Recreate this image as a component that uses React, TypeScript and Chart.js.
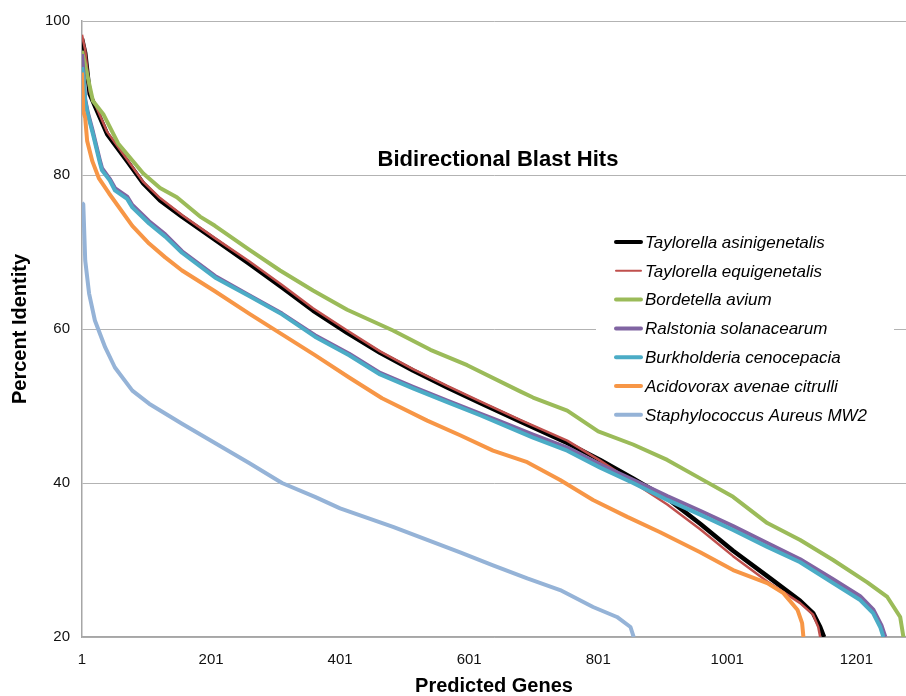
import React, { useEffect, useRef } from "react";
import { Chart, registerables } from "chart.js";

Chart.register(...registerables);

// Series: [predicted gene rank, percent identity]
const taylorellaAsinigenetalis: [number, number][] = [
  [1, 97.7], [6, 95.8], [13, 90.5], [40, 85.3], [71, 81.8], [96, 78.9], [122, 76.7], [156, 74.6],
  [207, 71.6], [260, 68.5], [311, 65.4], [359, 62.4], [412, 59.5], [463, 56.9], [514, 54.6],
  [567, 52.4], [618, 50.4], [680, 48.0], [753, 45.2], [804, 43.0], [855, 40.6], [908, 38.0],
  [959, 34.7], [1010, 31.2], [1063, 27.9], [1114, 24.7], [1134, 23.1], [1145, 21.3], [1151, 20.0],
];
const taylorellaEquigenetalis: [number, number][] = [
  [1, 98.2], [6, 96.2], [13, 90.8], [40, 85.6], [71, 82.0], [96, 79.1], [122, 77.0], [156, 74.8],
  [207, 71.8], [260, 68.8], [311, 65.7], [359, 62.7], [412, 59.8], [463, 57.1], [514, 54.8],
  [567, 52.6], [618, 50.6], [680, 48.2], [753, 45.5], [804, 42.9], [855, 40.1], [908, 37.2],
  [959, 34.0], [1010, 30.5], [1063, 27.2], [1114, 24.4], [1134, 22.9], [1142, 21.3], [1145, 20.0],
];
const bordetellaAvium: [number, number][] = [
  [1, 96.1], [18, 89.6], [34, 87.9], [57, 84.1], [96, 80.2], [122, 78.3], [148, 77.1], [184, 74.6],
  [207, 73.4], [260, 70.3], [308, 67.6], [359, 65.0], [412, 62.5], [483, 59.8], [541, 57.3],
  [598, 55.3], [680, 51.9], [700, 51.1], [753, 49.4], [801, 46.7], [855, 45.0], [908, 43.0],
  [959, 40.6], [1010, 38.2], [1063, 34.8], [1114, 32.6], [1165, 30.0], [1218, 27.1],
  [1249, 25.2], [1269, 22.6], [1274, 20.0],
];
const ralstoniaSolanacearum: [number, number][] = [
  [1, 95.7], [3, 93.5], [6, 89.8], [10, 88.1], [18, 85.6], [29, 81.8], [32, 80.9], [44, 79.5],
  [52, 78.3], [71, 77.2], [79, 76.1], [105, 74.0], [130, 72.3], [156, 70.1], [207, 66.9],
  [260, 64.4], [311, 62.0], [362, 59.2], [415, 56.8], [463, 54.3], [514, 52.5], [567, 50.7],
  [618, 49.0], [649, 48.0], [700, 46.3], [753, 44.6], [804, 42.4], [855, 40.4], [908, 38.3],
  [959, 36.4], [1010, 34.4], [1063, 32.2], [1114, 30.1], [1165, 27.5], [1207, 25.3],
  [1227, 23.6], [1240, 21.5], [1246, 20.0],
];
const burkholderiaCenocepacia: [number, number][] = [
  [1, 94.0], [3, 93.0], [6, 89.6], [10, 87.9], [18, 85.3], [29, 81.5], [32, 80.6], [44, 79.3],
  [52, 78.0], [71, 76.9], [79, 75.8], [105, 73.7], [130, 72.0], [156, 69.9], [207, 66.7],
  [260, 64.3], [311, 61.9], [362, 59.0], [415, 56.6], [463, 54.1], [514, 52.3], [567, 50.5],
  [618, 48.8], [649, 47.7], [700, 45.9], [753, 44.2], [804, 42.0], [855, 40.0], [908, 37.8],
  [959, 35.9], [1010, 33.9], [1063, 31.7], [1114, 29.7], [1165, 27.0], [1207, 24.8],
  [1227, 23.1], [1238, 21.3], [1243, 20.0],
];
const acidovoraxAvenaeCitrulli: [number, number][] = [
  [1, 93.3], [3, 88.3], [6, 87.4], [9, 84.4], [17, 81.8], [27, 79.6], [43, 77.6], [79, 73.4],
  [105, 71.1], [130, 69.3], [156, 67.6], [207, 64.9], [260, 62.0], [311, 59.3], [362, 56.6],
  [415, 53.7], [466, 51.0], [536, 48.1], [587, 46.2], [638, 44.2], [691, 42.7], [742, 40.4],
  [793, 37.8], [846, 35.6], [897, 33.6], [959, 31.0], [1010, 28.7], [1063, 27.0], [1088, 25.7],
  [1110, 23.5], [1117, 21.8], [1119, 20.0],
];
const staphylococcusAureusMW2: [number, number][] = [
  [1, 76.4], [3, 76.2], [6, 68.9], [12, 64.6], [21, 61.1], [37, 57.6], [52, 55.0], [79, 52.0],
  [105, 50.3], [156, 47.7], [207, 45.2], [260, 42.6], [311, 40.0], [362, 38.2], [401, 36.7],
  [432, 35.8], [483, 34.3], [536, 32.6], [587, 31.0], [638, 29.3], [691, 27.6], [742, 26.1],
  [793, 23.9], [830, 22.6], [851, 21.3], [856, 20.0],
];

const seriesNames = [
  "Taylorella asinigenetalis",
  "Taylorella equigenetalis",
  "Bordetella avium",
  "Ralstonia solanacearum",
  "Burkholderia cenocepacia",
  "Acidovorax avenae citrulli",
  "Staphylococcus Aureus MW2",
];
const seriesData = [
  taylorellaAsinigenetalis,
  taylorellaEquigenetalis,
  bordetellaAvium,
  ralstoniaSolanacearum,
  burkholderiaCenocepacia,
  acidovoraxAvenaeCitrulli,
  staphylococcusAureusMW2,
];
const seriesColors = ["#000000", "#C0504D", "#9BBB59", "#8064A2", "#4BACC6", "#F79646", "#95B3D7"];
const seriesWidths = [4.5, 2.5, 4, 4, 4, 4, 4];

const xTickValues = [1, 201, 401, 601, 801, 1001, 1201];
const yTickValues = [20, 40, 60, 80, 100];

const chartTitle = "Bidirectional Blast Hits";
const xTitle = "Predicted Genes";
const yTitle = "Percent Identity";

const FONT = "'Liberation Sans', Arial, Helvetica, sans-serif";

const overlayPlugin = {
  id: "overlay",
  beforeDatasetsDraw(chart: any) {
    const ctx = chart.ctx;
    ctx.save();
    ctx.fillStyle = "#ffffff";
    ctx.fillRect(596, 226, 298, 206);
    ctx.restore();
  },
  afterDatasetsDraw(chart: any) {
    const ctx = chart.ctx;
    ctx.save();
    ctx.fillStyle = "#000";
    ctx.font = `bold 22px ${FONT}`;
    ctx.textAlign = "center";
    ctx.textBaseline = "middle";
    ctx.fillText(chartTitle, 498, 160);
    ctx.font = `italic 17px ${FONT}`;
    ctx.textAlign = "left";
    chart.data.datasets.forEach((ds: any, i: number) => {
      const y = 242 + i * 28.8;
      ctx.strokeStyle = ds.borderColor;
      ctx.lineWidth = i === 1 ? 2 : 4;
      ctx.lineCap = "round";
      ctx.beginPath();
      ctx.moveTo(616, y);
      ctx.lineTo(641, y);
      ctx.stroke();
      ctx.fillStyle = "#000";
      ctx.fillText(ds.label, 645, y + 1);
    });
    ctx.restore();
  },
};

export default function App() {
  const ref = useRef<HTMLCanvasElement>(null);
  useEffect(() => {
    if (!ref.current) return;
    const chart = new Chart(ref.current, {
      type: "line",
      data: {
        datasets: seriesData.map((arr, i) => ({
          label: seriesNames[i],
          data: arr.map(([x, y]) => ({ x, y })),
          borderColor: seriesColors[i],
          backgroundColor: seriesColors[i],
          borderWidth: seriesWidths[i],
          pointRadius: 0,
          tension: 0,
          fill: false,
          order: -i,
          borderJoinStyle: "round" as const,
        })),
      },
      options: {
        responsive: false,
        animation: false,
        devicePixelRatio: 1,
        layout: { padding: { top: 20, right: 0, left: 0, bottom: 0 } },
        plugins: {
          legend: { display: false },
          tooltip: { enabled: false },
          title: { display: false },
        },
        scales: {
          x: {
            type: "linear",
            min: 1,
            max: 1278,
            afterBuildTicks: (scale: any) => {
              scale.ticks = xTickValues.map((value) => ({ value }));
            },
            afterFit: (scale: any) => {
              scale.height = 59;
            },
            grid: { display: false, drawTicks: false },
            border: { display: true, color: "#a6a6a6", width: 1.5 },
            ticks: {
              padding: 14,
              font: { family: FONT, size: 15 },
              color: "#111",
              maxRotation: 0,
              autoSkip: false,
              callback: (v: any) => String(v),
            },
            title: {
              display: true,
              text: xTitle,
              font: { family: FONT, size: 20, weight: "bold", lineHeight: 1 },
              color: "#000",
              padding: { top: 0, bottom: 0 },
            },
          },
          y: {
            type: "linear",
            min: 20,
            max: 100,
            afterBuildTicks: (scale: any) => {
              scale.ticks = yTickValues.map((value) => ({ value }));
            },
            afterFit: (scale: any) => {
              scale.width = 82;
            },
            grid: { display: true, color: "#b3b3b3", lineWidth: 1, drawTicks: false },
            border: { display: true, color: "#a6a6a6", width: 1.5 },
            ticks: {
              padding: 12,
              font: { family: FONT, size: 15 },
              color: "#111",
            },
            title: {
              display: true,
              text: yTitle,
              font: { family: FONT, size: 20, weight: "bold", lineHeight: 1 },
              color: "#000",
              padding: { top: 10, bottom: 0 },
            },
          },
        },
      },
      plugins: [overlayPlugin],
    });
    return () => chart.destroy();
  }, []);
  return (
    <div style={{ position: "absolute", left: 0, top: 0, width: 906, height: 696, background: "#fff" }}>
      <canvas ref={ref} width={906} height={696} style={{ display: "block", width: 906, height: 696 }} />
    </div>
  );
}
